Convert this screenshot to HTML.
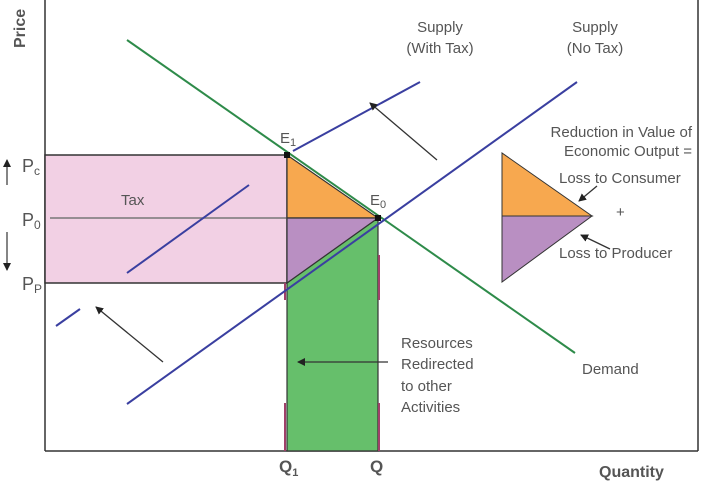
<!DOCTYPE html>
<html><head><style>
html,body{margin:0;padding:0;background:#fff;}
svg{display:block;}
text{font-family:"Liberation Sans",sans-serif;fill:#555;}
</style></head><body>
<svg width="703" height="484" viewBox="0 0 703 484" xmlns="http://www.w3.org/2000/svg">
<defs>
<marker id="ah" markerWidth="8" markerHeight="8" refX="7" refY="4" orient="auto" markerUnits="userSpaceOnUse"><path d="M0,0 L8,4 L0,8 z" fill="#222"/></marker>
</defs>
<line x1="45" y1="0" x2="45" y2="451" stroke="#333" stroke-width="1.5"/>
<line x1="45" y1="451" x2="698" y2="451" stroke="#333" stroke-width="1.5"/>
<line x1="698" y1="0" x2="698" y2="451" stroke="#333" stroke-width="1.5"/>
<rect x="45" y="155" width="242" height="128" fill="#f2d0e4" stroke="#333" stroke-width="1.5"/>
<line x1="50" y1="218" x2="378" y2="218" stroke="#777" stroke-width="1.5"/>
<polygon points="287,283 378,218 378,451 287,451" fill="#66bf6b" stroke="#333" stroke-width="1.2"/>
<polygon points="287,155 287,218 378,218" fill="#f7a84f" stroke="#333" stroke-width="1.2"/>
<polygon points="287,218 378,218 287,283" fill="#b98fc2" stroke="#333" stroke-width="1.2"/>
<line x1="285" y1="283" x2="285" y2="300" stroke="#a0406a" stroke-width="2"/>
<line x1="285" y1="403" x2="285" y2="451" stroke="#a0406a" stroke-width="2"/>
<line x1="379" y1="403" x2="379" y2="451" stroke="#a0406a" stroke-width="2"/>
<line x1="379" y1="255" x2="379" y2="300" stroke="#a0406a" stroke-width="2"/>
<line x1="127" y1="40" x2="575" y2="353" stroke="#2e8b4a" stroke-width="2"/>
<line x1="127" y1="404" x2="577" y2="82" stroke="#3a3fa0" stroke-width="2"/>
<line x1="293" y1="151" x2="420" y2="82" stroke="#3a3fa0" stroke-width="2"/>
<line x1="127" y1="273" x2="249" y2="185" stroke="#3a3fa0" stroke-width="2"/>
<line x1="56" y1="326" x2="80" y2="309" stroke="#3a3fa0" stroke-width="2"/>
<rect x="284" y="152" width="6" height="6" fill="#111"/>
<rect x="375" y="215" width="6" height="6" fill="#111"/>
<line x1="437" y1="160" x2="370" y2="103" stroke="#333" stroke-width="1.3" marker-end="url(#ah)"/>
<line x1="163" y1="362" x2="96" y2="307" stroke="#333" stroke-width="1.3" marker-end="url(#ah)"/>
<line x1="388" y1="362" x2="298" y2="362" stroke="#333" stroke-width="1.3" marker-end="url(#ah)"/>
<line x1="597" y1="186" x2="579" y2="201" stroke="#333" stroke-width="1.3" marker-end="url(#ah)"/>
<line x1="610" y1="249" x2="581" y2="235" stroke="#333" stroke-width="1.3" marker-end="url(#ah)"/>
<line x1="7" y1="185" x2="7" y2="160" stroke="#333" stroke-width="1.2" marker-end="url(#ah)"/>
<line x1="7" y1="232" x2="7" y2="270" stroke="#333" stroke-width="1.2" marker-end="url(#ah)"/>
<polygon points="502,153 502,216 592,216" fill="#f7a84f" stroke="#333" stroke-width="1"/>
<polygon points="502,216 592,216 502,282" fill="#b98fc2" stroke="#333" stroke-width="1"/>
<text transform="translate(25,48) rotate(-90)" font-size="16" font-weight="bold" fill="#333">Price</text>
<text x="22" y="172" font-size="18" fill="#333">P<tspan font-size="12" dy="3">c</tspan></text>
<text x="22" y="226" font-size="18" fill="#333">P<tspan font-size="12" dy="3">0</tspan></text>
<text x="22" y="290" font-size="18" fill="#333">P<tspan font-size="12" dy="3">P</tspan></text>
<text x="121" y="205" font-size="15">Tax</text>
<text x="280" y="143" font-size="15">E<tspan font-size="11" dy="3">1</tspan></text>
<text x="370" y="205" font-size="15">E<tspan font-size="11" dy="3">0</tspan></text>
<text x="440" y="32" font-size="15" text-anchor="middle">Supply</text>
<text x="440" y="53" font-size="15" text-anchor="middle">(With Tax)</text>
<text x="595" y="32" font-size="15" text-anchor="middle">Supply</text>
<text x="595" y="53" font-size="15" text-anchor="middle">(No Tax)</text>
<text x="692" y="137" font-size="15" text-anchor="end">Reduction in Value of</text>
<text x="692" y="156" font-size="15" text-anchor="end">Economic Output =</text>
<text x="559" y="183" font-size="15">Loss to Consumer</text>
<text x="616" y="217" font-size="15">+</text>
<text x="559" y="258" font-size="15">Loss to Producer</text>
<text x="401" y="348" font-size="15">Resources</text>
<text x="401" y="369" font-size="15">Redirected</text>
<text x="401" y="391" font-size="15">to other</text>
<text x="401" y="412" font-size="15">Activities</text>
<text x="582" y="374" font-size="15">Demand</text>
<text x="279" y="472" font-size="17" font-weight="bold" fill="#333">Q<tspan font-size="11" dy="4">1</tspan></text>
<text x="370" y="472" font-size="17" font-weight="bold" fill="#333">Q</text>
<text x="599" y="477" font-size="16" font-weight="bold" fill="#333">Quantity</text>
</svg>
</body></html>
